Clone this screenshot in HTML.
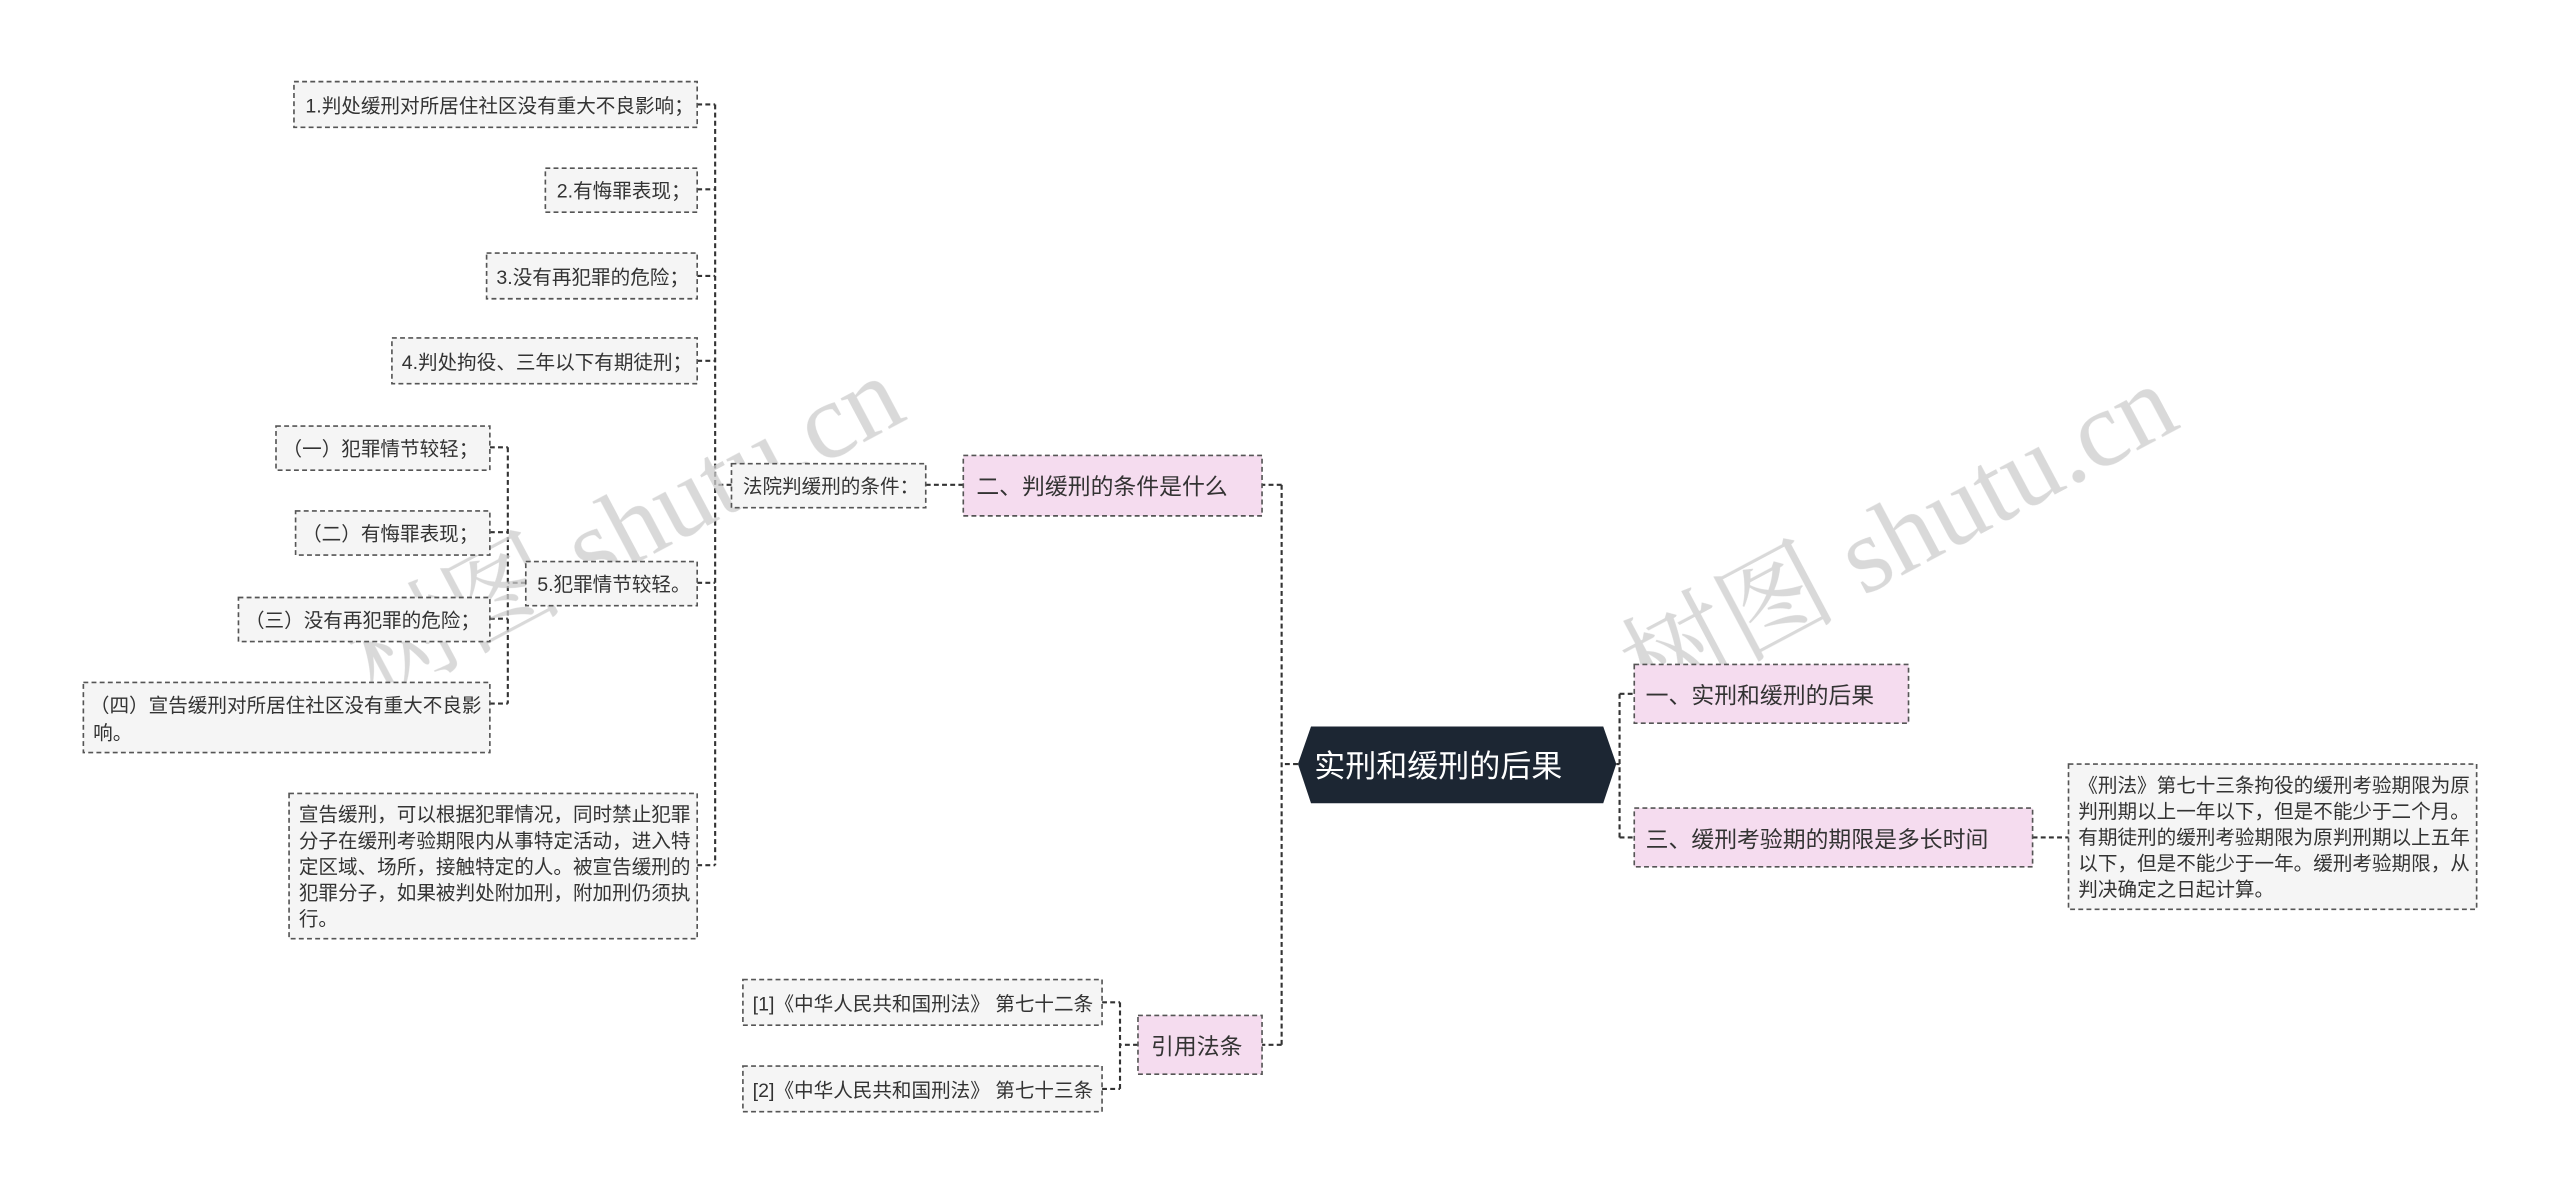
<!DOCTYPE html>
<html><head><meta charset="utf-8"><style>
html,body{margin:0;padding:0;background:#fff;width:2560px;height:1195px;overflow:hidden}
svg{display:block}
text{font-family:"Liberation Sans","Noto Sans CJK SC",sans-serif;fill:#333}
</style></head><body>
<svg width="2560" height="1195" viewBox="0 0 1568 732" xmlns="http://www.w3.org/2000/svg">
<g fill="none" stroke="#333" stroke-width="1.3" stroke-dasharray="3 2">
<path d="M795 468 H785 M785 297 V640 M785 297 H773 M785 640 H773"/>
<path d="M990 468 H992 M992 425 V513 M992 425 H1001 M992 513 H1001"/>
<path d="M1245 513 H1267"/>
<path d="M590 297 H567"/>
<path d="M448 297 H438 M438 64 V530 M427 64 H438 M427 116 H438 M427 169 H438 M427 221 H438 M427 357 H438 M427 530 H438"/>
<path d="M322 357 H311 M311 274 V431 M300 274 H311 M300 326 H311 M300 379 H311 M300 431 H311"/>
<path d="M697 640 H686 M686 614 V667 M675 614 H686 M675 667 H686"/>
</g>
<g opacity="0.75">
<text x="230" y="430" font-size="66" transform="rotate(-28 230 430)" style="fill:#ccc;font-family:'Liberation Serif','Noto Serif CJK SC',serif">树图 shutu.cn</text>
<text x="1010" y="435" font-size="66" transform="rotate(-28 1010 435)" style="fill:#ccc;font-family:'Liberation Serif','Noto Serif CJK SC',serif">树图 shutu.cn</text>
</g>
<g stroke="#555" stroke-width="1" stroke-dasharray="3 2">
<rect x="180" y="50" width="247" height="28" fill="#f5f5f5"/>
<rect x="334" y="103" width="93" height="27" fill="#f5f5f5"/>
<rect x="298" y="155" width="129" height="28" fill="#f5f5f5"/>
<rect x="240" y="207" width="187" height="28" fill="#f5f5f5"/>
<rect x="322" y="344" width="105" height="27" fill="#f5f5f5"/>
<rect x="169" y="261" width="131" height="27" fill="#f5f5f5"/>
<rect x="181" y="313" width="119" height="27" fill="#f5f5f5"/>
<rect x="146" y="366" width="154" height="27" fill="#f5f5f5"/>
<rect x="51" y="418" width="249" height="43" fill="#f5f5f5"/>
<rect x="177" y="486" width="250" height="89" fill="#f5f5f5"/>
<rect x="448" y="284" width="119" height="27" fill="#f5f5f5"/>
<rect x="590" y="279" width="183" height="37" fill="#f5dcef"/>
<rect x="697" y="622" width="76" height="36" fill="#f5dcef"/>
<rect x="455" y="600" width="220" height="28" fill="#f5f5f5"/>
<rect x="455" y="653" width="220" height="28" fill="#f5f5f5"/>
<rect x="1001" y="407" width="168" height="36" fill="#f5dcef"/>
<rect x="1001" y="495" width="244" height="36" fill="#f5dcef"/>
<rect x="1267" y="468" width="250" height="89" fill="#f5f5f5"/>
</g>
<polygon points="803,445 982,445 990,468 982,492 803,492 795,468" fill="#1c2633"/>
<g font-size="12">
<text x="187" y="69">1.判处缓刑对所居住社区没有重大不良影响；</text>
<text x="341" y="121">2.有悔罪表现；</text>
<text x="304" y="174">3.没有再犯罪的危险；</text>
<text x="246" y="226">4.判处拘役、三年以下有期徒刑；</text>
<text x="329" y="362">5.犯罪情节较轻。</text>
<text x="173" y="279">（一）犯罪情节较轻；</text>
<text x="185" y="331">（二）有悔罪表现；</text>
<text x="150" y="384">（三）没有再犯罪的危险；</text>
<text x="55" y="436">（四）宣告缓刑对所居住社区没有重大不良影</text>
<text x="57" y="453">响。</text>
<text x="183" y="503">宣告缓刑，可以根据犯罪情况，同时禁止犯罪</text>
<text x="183" y="519">分子在缓刑考验期限内从事特定活动，进入特</text>
<text x="183" y="535">定区域、场所，接触特定的人。被宣告缓刑的</text>
<text x="183" y="551">犯罪分子，如果被判处附加刑，附加刑仍须执</text>
<text x="183" y="567">行。</text>
<text x="455" y="302">法院判缓刑的条件：</text>
<text x="461" y="619">[1]《中华人民共和国刑法》 第七十二条</text>
<text x="461" y="672">[2]《中华人民共和国刑法》 第七十三条</text>
<text x="1273" y="485">《刑法》第七十三条拘役的缓刑考验期限为原</text>
<text x="1273" y="501">判刑期以上一年以下，但是不能少于二个月。</text>
<text x="1273" y="517">有期徒刑的缓刑考验期限为原判刑期以上五年</text>
<text x="1273" y="533">以下，但是不能少于一年。缓刑考验期限，从</text>
<text x="1273" y="549">判决确定之日起计算。</text>
</g>
<g font-size="14">
<text x="598" y="303">二、判缓刑的条件是什么</text>
<text x="705" y="646">引用法条</text>
<text x="1008" y="431">一、实刑和缓刑的后果</text>
<text x="1008" y="519">三、缓刑考验期的期限是多长时间</text>
</g>
<text x="805" y="476" font-size="19" style="fill:#fff">实刑和缓刑的后果</text>
</svg>
</body></html>
